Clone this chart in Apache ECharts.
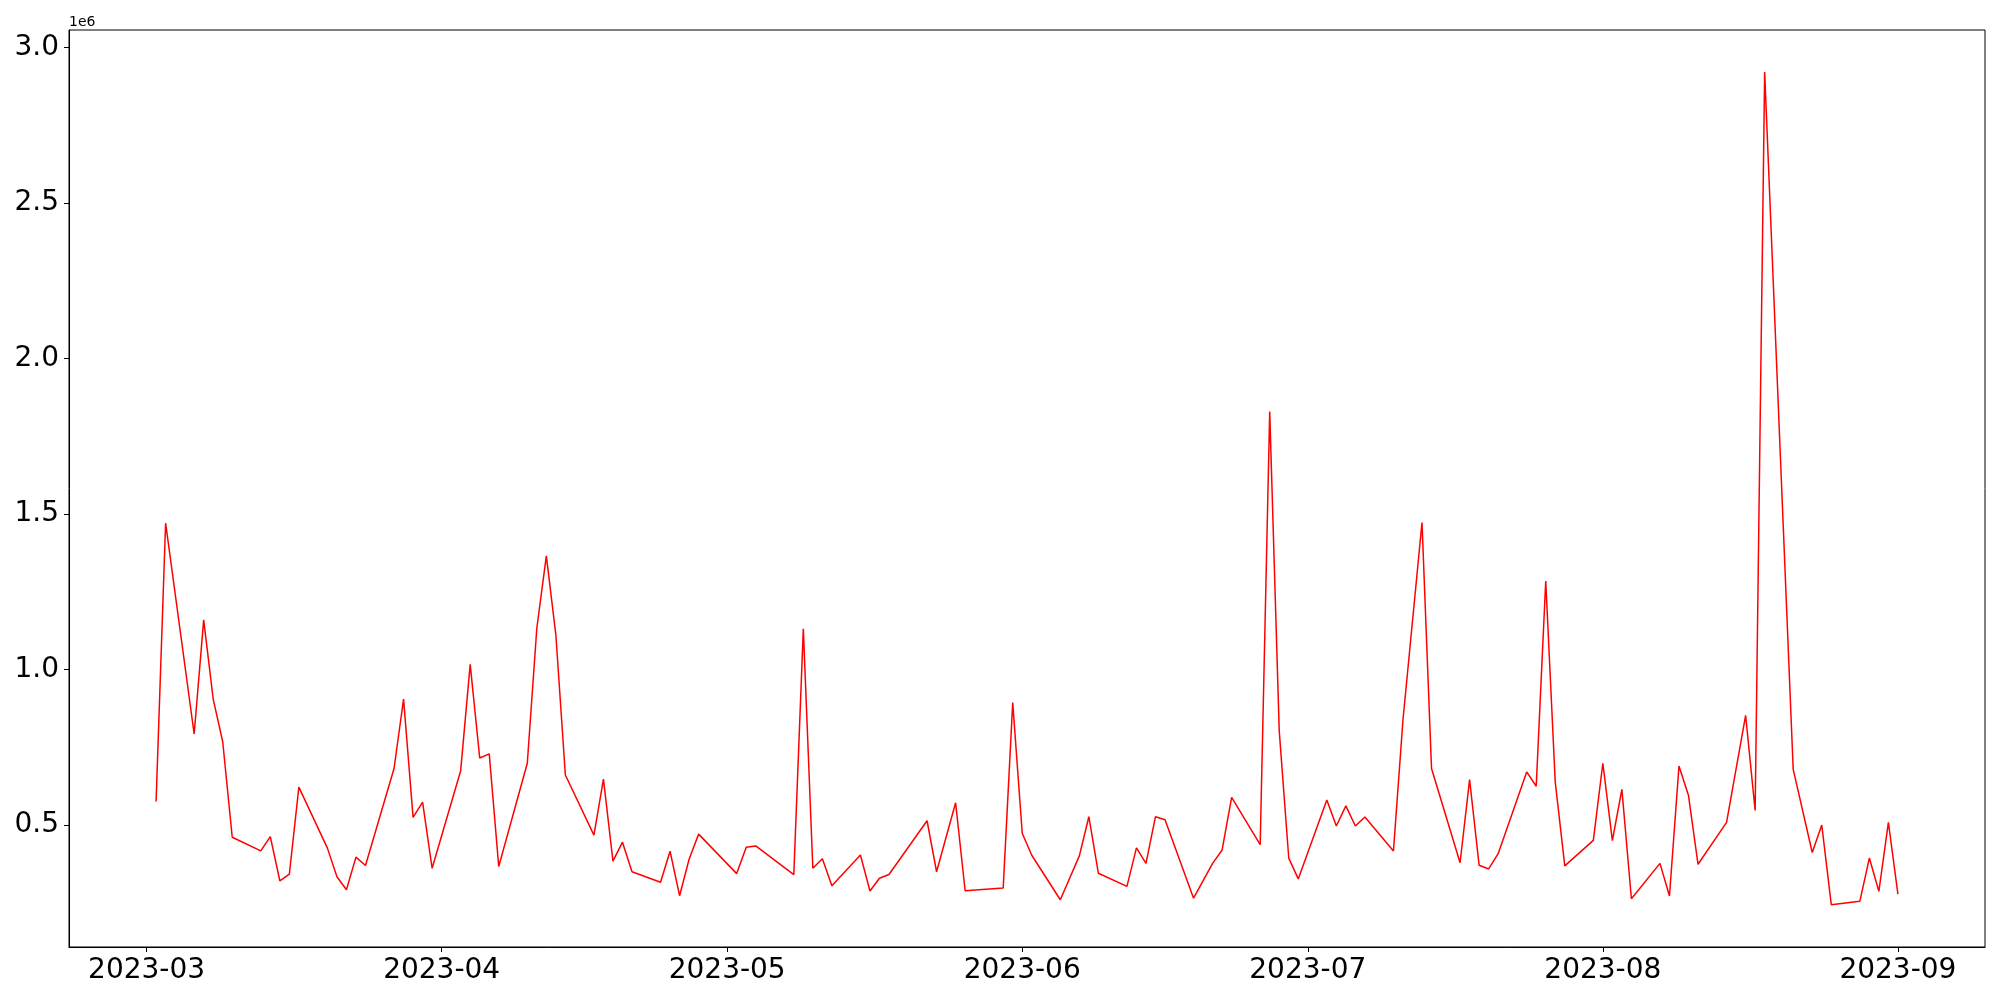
<!DOCTYPE html>
<html>
<head>
<meta charset="utf-8">
<script src="https://cdn.jsdelivr.net/npm/echarts@6/dist/echarts.min.js"></script>
<style>html,body{margin:0;padding:0;background:#fff}#c{width:2000px;height:1000px}</style>
</head>
<body>
<div id="c"></div>
<script>
const dates = ['2023-03-02','2023-03-03','2023-03-06','2023-03-07','2023-03-08','2023-03-09','2023-03-10','2023-03-13','2023-03-14','2023-03-15','2023-03-16','2023-03-17','2023-03-20','2023-03-21','2023-03-22','2023-03-23','2023-03-24','2023-03-27','2023-03-28','2023-03-29','2023-03-30','2023-03-31',
'2023-04-03','2023-04-04','2023-04-05','2023-04-06','2023-04-07','2023-04-10','2023-04-11','2023-04-12','2023-04-13','2023-04-14','2023-04-17','2023-04-18','2023-04-19','2023-04-20','2023-04-21','2023-04-24','2023-04-25','2023-04-26','2023-04-27','2023-04-28',
'2023-05-02','2023-05-03','2023-05-04','2023-05-08','2023-05-09','2023-05-10','2023-05-11','2023-05-12','2023-05-15','2023-05-16','2023-05-17','2023-05-18','2023-05-22','2023-05-23','2023-05-25','2023-05-26','2023-05-30','2023-05-31',
'2023-06-01','2023-06-02','2023-06-05','2023-06-07','2023-06-08','2023-06-09','2023-06-12','2023-06-13','2023-06-14','2023-06-15','2023-06-16','2023-06-19','2023-06-21','2023-06-22','2023-06-23','2023-06-26','2023-06-27','2023-06-28','2023-06-29','2023-06-30',
'2023-07-03','2023-07-04','2023-07-05','2023-07-06','2023-07-07','2023-07-10','2023-07-11','2023-07-13','2023-07-14','2023-07-17','2023-07-18','2023-07-19','2023-07-20','2023-07-21','2023-07-24','2023-07-25','2023-07-26','2023-07-27','2023-07-28','2023-07-31',
'2023-08-01','2023-08-02','2023-08-03','2023-08-04','2023-08-07','2023-08-08','2023-08-09','2023-08-10','2023-08-11','2023-08-14','2023-08-16','2023-08-17','2023-08-18','2023-08-21','2023-08-23','2023-08-24','2023-08-25','2023-08-28','2023-08-29','2023-08-30','2023-08-31','2023-09-01'];

const values = [576000,1471000,793000,1160000,905000,768000,461000,417000,463000,321000,342000,622000,426000,334000,292000,397000,370000,682000,905000,525000,574000,361000,
675000,1017000,716000,729000,367000,699000,1133000,1366000,1112000,661000,468000,648000,384000,445000,350000,316000,416000,273000,390000,471000,
344000,429000,433000,341000,1131000,361000,392000,305000,404000,288000,329000,341000,514000,350000,572000,289000,298000,894000,
474000,403000,260000,401000,527000,345000,303000,427000,377000,527000,517000,265000,377000,420000,589000,437000,1830000,803000,394000,327000,
581000,497000,562000,497000,526000,417000,838000,1473000,682000,379000,646000,371000,359000,408000,671000,625000,1285000,638000,369000,451000,
699000,450000,615000,263000,377000,272000,690000,595000,374000,509000,853000,547000,2922000,679000,412000,500000,244000,255000,394000,287000,509000,278000];

const xTickLabels = ['2023-03','2023-04','2023-05','2023-06','2023-07','2023-08','2023-09'];
const yTickValues = [500000,1000000,1500000,2000000,2500000,3000000];
const offsetLabel = '1e6';

const DAY = 86400000;
function ts(s){ const p = s.split('-').map(Number); return Date.UTC(p[0], p[1]-1, p[2] || 1); }
const xTicks = xTickLabels.map(ts);
const seriesData = dates.map((d,i)=>[ts(d), values[i]]);
const xMin = ts('2023-03-01') - 8.15*DAY;
const xMax = ts('2023-03-01') + 193.15*DAY;

const chart = echarts.init(document.getElementById('c'), null, {renderer:'canvas'});
const font = 'DejaVu Sans';
chart.setOption({
  animation: false,
  backgroundColor: '#fff',
  grid: {left: 69, right: 15, top: 30, bottom: 53, show: true, borderColor: '#000', borderWidth: 1, backgroundColor: 'transparent'},
  graphic: [{type:'text', left: 69, top: 15, style:{text: offsetLabel, font: '14px "DejaVu Sans"', fill:'#000'}}],
  xAxis: {
    type: 'value', min: xMin, max: xMax, scale: true,
    axisLine: {show: true, lineStyle: {color:'#000', width: 1}},
    axisTick: {show: true, length: 5, lineStyle: {color:'#000', width: 1}, customValues: xTicks},
    axisLabel: {show: true, customValues: xTicks, fontFamily: font, fontSize: 28, color: '#000', margin: 10,
      formatter: function(v){ const d = new Date(v); return d.getUTCFullYear() + '-' + String(d.getUTCMonth()+1).padStart(2,'0'); }},
    splitLine: {show: false}
  },
  yAxis: {
    type: 'value', min: 108000, max: 3057000,
    axisLine: {show: true, lineStyle: {color:'#000', width: 1}},
    axisTick: {show: true, length: 5, lineStyle: {color:'#000', width: 1}, customValues: yTickValues},
    axisLabel: {show: true, customValues: yTickValues, fontFamily: font, fontSize: 28, color: '#000', margin: 10,
      formatter: function(v){ return (v/1e6).toFixed(1); }},
    splitLine: {show: false}
  },
  series: [{
    type: 'line', data: seriesData, showSymbol: false, symbol: 'none',
    lineStyle: {color: '#ff0000', width: 1.5}, itemStyle: {color:'#ff0000'}
  }]
});
</script>
</body>
</html>
